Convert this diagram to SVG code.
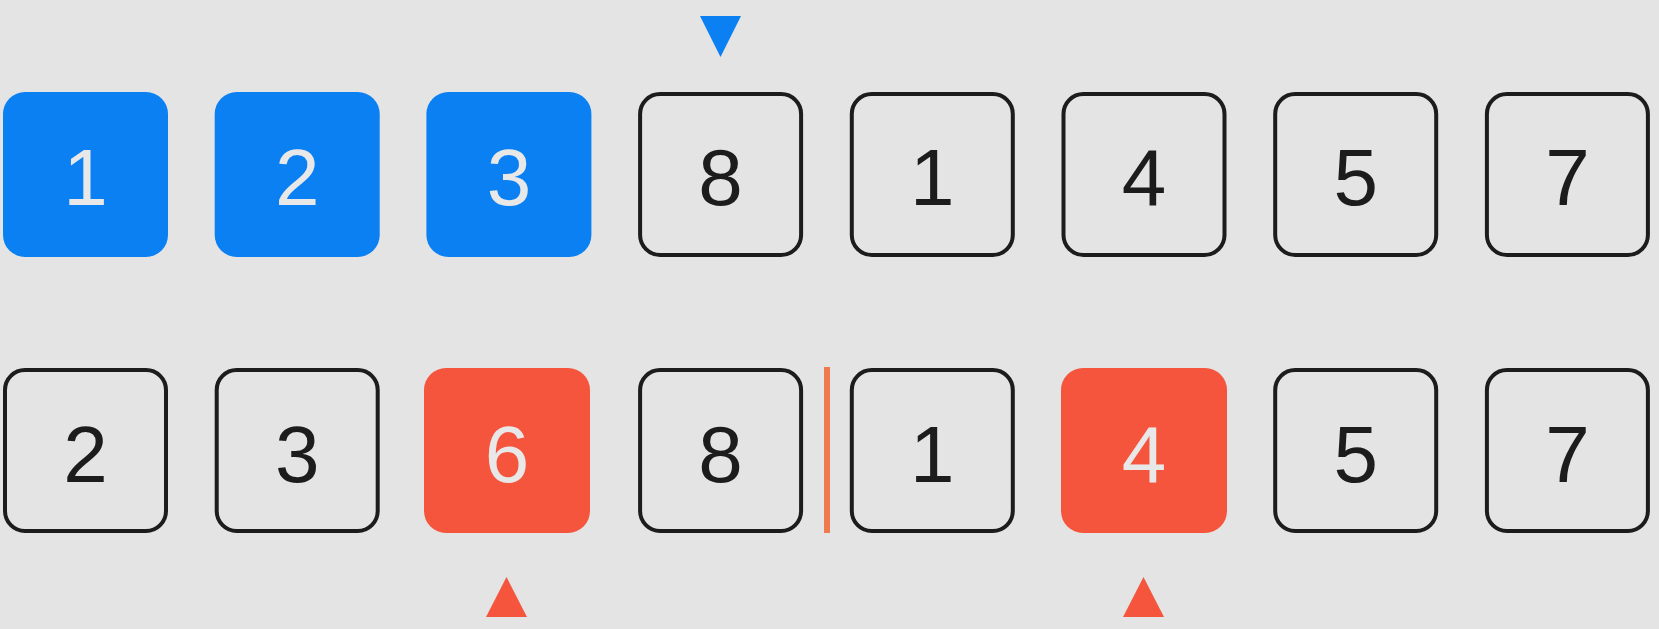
<svg xmlns="http://www.w3.org/2000/svg" width="1659" height="629" viewBox="0 0 1659 629">
<style>
.bg{fill:#e4e4e4}
.box{fill:none;stroke:#1c1c1c;stroke-width:4}
.blue{fill:#0a80f2}
.red{fill:#f5553d}
.t{font-family:"Liberation Sans",Arial,sans-serif;font-size:80px;text-anchor:middle}
.dk{fill:#1c1c1c}
.lt{fill:#e8e8e8}
</style>
<rect class="bg" x="0" y="0" width="1659" height="629"/>
<g id="pointer-top"><polygon class="blue" points="700,16 741,16 720.5,57"/></g>
<g id="r1-0"><rect class="blue" x="3" y="92" width="165" height="165" rx="22"/><text class="t lt" x="85.5" y="205">1</text></g>
<g id="r1-1"><rect class="blue" x="214.7" y="92" width="165" height="165" rx="22"/><text class="t lt" x="297.2" y="205">2</text></g>
<g id="r1-2"><rect class="blue" x="426.4" y="92" width="165" height="165" rx="22"/><text class="t lt" x="508.9" y="205">3</text></g>
<g id="r1-3"><rect class="box" x="640.1" y="94" width="161" height="161" rx="20"/><text class="t dk" x="720.6" y="205">8</text></g>
<g id="r1-4"><rect class="box" x="851.8" y="94" width="161" height="161" rx="20"/><text class="t dk" x="932.3" y="205">1</text></g>
<g id="r1-5"><rect class="box" x="1063.5" y="94" width="161" height="161" rx="20"/><text class="t dk" x="1144" y="205">4</text></g>
<g id="r1-6"><rect class="box" x="1275.2" y="94" width="161" height="161" rx="20"/><text class="t dk" x="1355.7" y="205">5</text></g>
<g id="r1-7"><rect class="box" x="1486.9" y="94" width="161" height="161" rx="20"/><text class="t dk" x="1567.4" y="205">7</text></g>
<g id="r2-0"><rect class="box" x="5" y="370" width="161" height="161" rx="20"/><text class="t dk" x="85.5" y="482">2</text></g>
<g id="r2-1"><rect class="box" x="216.7" y="370" width="161" height="161" rx="20"/><text class="t dk" x="297.2" y="482">3</text></g>
<g id="r2-2"><rect class="red" x="424" y="368" width="166" height="165" rx="22"/><text class="t lt" x="507" y="482">6</text></g>
<g id="r2-3"><rect class="box" x="640.1" y="370" width="161" height="161" rx="20"/><text class="t dk" x="720.6" y="482">8</text></g>
<g id="divider"><rect x="824" y="367" width="6" height="166" fill="#ee7a4e"/></g>
<g id="r2-4"><rect class="box" x="851.8" y="370" width="161" height="161" rx="20"/><text class="t dk" x="932.3" y="482">1</text></g>
<g id="r2-5"><rect class="red" x="1061" y="368" width="166" height="165" rx="22"/><text class="t lt" x="1144" y="482">4</text></g>
<g id="r2-6"><rect class="box" x="1275.2" y="370" width="161" height="161" rx="20"/><text class="t dk" x="1355.7" y="482">5</text></g>
<g id="r2-7"><rect class="box" x="1486.9" y="370" width="161" height="161" rx="20"/><text class="t dk" x="1567.4" y="482">7</text></g>
<g id="pointer-bottom-left"><polygon class="red" points="486,617 527,617 506.5,577"/></g>
<g id="pointer-bottom-right"><polygon class="red" points="1123,617 1164,617 1143.5,577"/></g>
<g id="connectors"></g>
</svg>
